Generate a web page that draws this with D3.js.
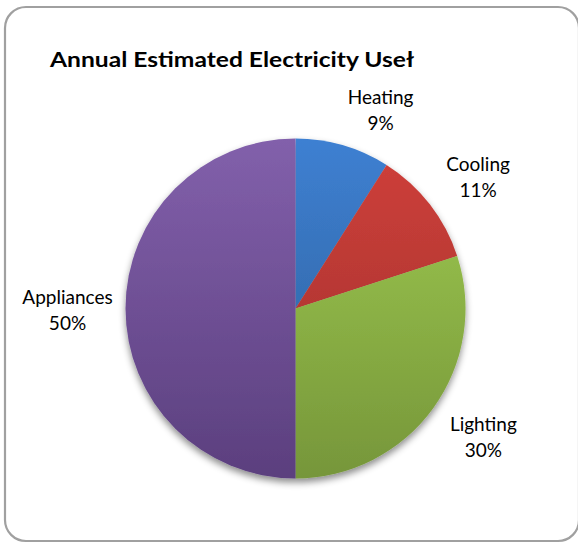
<!DOCTYPE html>
<html>
<head>
<meta charset="utf-8">
<script src="https://cdn.jsdelivr.net/npm/d3@7"></script>
<style>
  html, body { margin: 0; padding: 0; background: #fff; }
  svg { display: block; }
  text { font-family: Lato, "Open Sans", sans-serif; fill: #000; }
</style>
</head>
<body>
<div id="chart"></div>
<script>
// chart data
const categories = ["Heating", "Cooling", "Lighting", "Appliances"];
const shares = [9, 11, 30, 50];
const chartTitle = "Annual Estimated Electricity Useł";

const colourTop = ["#3e80d2", "#d0403b", "#a0cc50", "#8260ab"];
const colourBottom = ["#2c5c94", "#9c2f2b", "#76963a", "#5b3f7e"];

const width = 578, height = 543;
const cx = 295.5, cy = 308.5, radius = 170;
const labelRadius = 226;
// Excel nudges the labels off their centroids a bit
const labelNudge = { Heating: [22, 16], Cooling: [4, 4], Lighting: [5, -7], Appliances: [-2, -2] };

const svg = d3.select("#chart").append("svg")
    .attr("width", width)
    .attr("height", height);

const defs = svg.append("defs");

categories.forEach((c, i) => {
    const g = defs.append("linearGradient")
        .attr("id", "grad" + i)
        .attr("gradientUnits", "userSpaceOnUse")
        .attr("x1", 0).attr("y1", -radius)
        .attr("x2", 0).attr("y2", radius);
    g.append("stop").attr("offset", "0%").attr("stop-color", colourTop[i]);
    g.append("stop").attr("offset", "100%").attr("stop-color", colourBottom[i]);
});

defs.append("filter")
    .attr("id", "shadow")
    .attr("x", "-20%").attr("y", "-20%")
    .attr("width", "140%").attr("height", "140%")
    .append("feDropShadow")
    .attr("dx", 0)
    .attr("dy", 4)
    .attr("stdDeviation", 3.5)
    .attr("flood-color", "#000")
    .attr("flood-opacity", 0.45);

// frame
svg.append("rect")
    .attr("x", 5)
    .attr("y", 7)
    .attr("width", 574)
    .attr("height", 534)
    .attr("rx", 21)
    .attr("fill", "#fff")
    .attr("stroke", "#a0a0a0")
    .attr("stroke-width", 2.2);

svg.append("text")
    .attr("x", 50)
    .attr("y", 67)
    .attr("font-size", 21.5)
    .attr("font-weight", "bold")
    .attr("textLength", 364)
    .attr("lengthAdjust", "spacingAndGlyphs")
    .text(chartTitle);

const pie = d3.pie()
    .sort(null)
    .value(d => d.value);

const arcs = pie(categories.map((c, i) => ({ name: c, value: shares[i], i: i })));

const arc = d3.arc().innerRadius(0).outerRadius(radius);
const labelArc = d3.arc().innerRadius(labelRadius).outerRadius(labelRadius);

const plot = svg.append("g")
    .attr("transform", `translate(${cx},${cy})`);

plot.append("g")
    .attr("filter", "url(#shadow)")
    .selectAll("path")
    .data(arcs)
    .enter()
    .append("path")
    .attr("d", arc)
    .attr("fill", d => `url(#grad${d.data.i})`);

const totalShare = d3.sum(shares);

const labels = plot.append("g")
    .selectAll("text")
    .data(arcs)
    .enter()
    .append("text")
    .attr("text-anchor", "middle")
    .attr("font-size", 19)
    .attr("transform", d => {
        const [x, y] = labelArc.centroid(d);
        const n = labelNudge[d.data.name];
        return `translate(${x + n[0]},${y + n[1]})`;
    });

labels.append("tspan")
    .attr("x", 0)
    .attr("y", -3)
    .text(d => d.data.name);

labels.append("tspan")
    .attr("x", 0)
    .attr("y", 23)
    .text(d => Math.round(100 * d.data.value / totalShare) + "%");
</script>
</body>
</html>
